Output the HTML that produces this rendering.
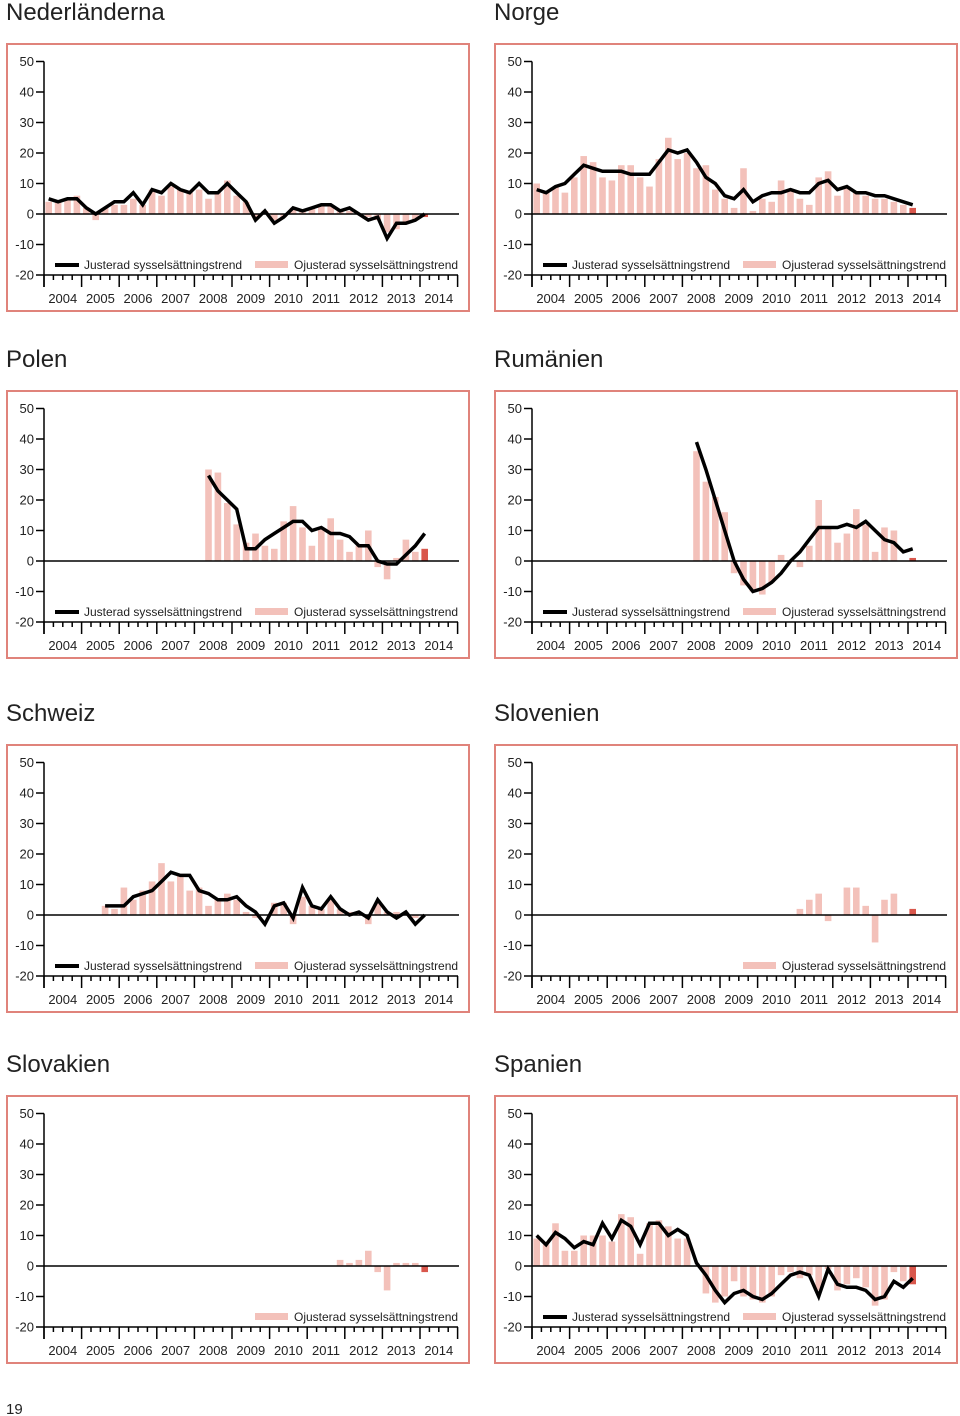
<!DOCTYPE html>
<html><head><meta charset="utf-8"><style>
body{margin:0;background:#fff;}
svg{display:block;font-family:"Liberation Sans",Arial,sans-serif;}
</style></head><body>
<svg id="page" width="960" height="1416" viewBox="0 0 960 1416" xmlns="http://www.w3.org/2000/svg">
<text x="6" y="1414" font-size="15" fill="#222">19</text>
</svg>
<script>
const years = ["2004","2005","2006","2007","2008","2009","2010","2011","2012","2013","2014"];
const yTicks = [50,40,30,20,10,0,-10,-20];
const titles = ["Nederländerna","Norge","Polen","Rumänien","Schweiz","Slovenien","Slovakien","Spanien"];
const nlLine = [5,4,5,5,2,0,2,4,4,7,3,8,7,10,8,7,10,7,7,10,7,4,-2,1,-3,-1,2,1,2,3,3,1,2,0,-2,-1,-8,-3,-3,-2,0];
const nlBars = [4,4,5,6,2,-2,2,3,3,5,3,8,6,9,8,7,8,5,7,11,6,4,-1,1,-2,-1,2,1,2,3,3,1,1,0,-1,-2,-6,-5,-3,-2,-1];
const noLine = [8,7,9,10,13,16,15,14,14,14,13,13,13,17,21,20,21,17,12,10,6,5,8,4,6,7,7,8,7,7,10,11,8,9,7,7,6,6,5,4,3];
const noBars = [10,7,9,7,12,19,17,12,11,16,16,12,9,18,25,18,20,15,16,8,5,2,15,1,5,4,11,8,5,3,12,14,6,9,7,6,5,5,4,3,2];
const plLine = [28,23,20,17,4,4,7,9,11,13,13,10,11,9,9,8,5,5,0,-1,-1,2,5,9];
const plBars = [30,29,19,12,6,9,5,4,13,18,11,5,11,14,7,3,5,10,-2,-6,1,7,3,4];
const roLine = [39,30,20,10,0,-6,-10,-9,-7,-4,0,3,7,11,11,11,12,11,13,10,7,6,3,4];
const roBars = [36,26,21,16,-4,-8,-10,-11,-7,2,0,-2,5,20,11,6,9,17,12,3,11,10,0,1];
const chLine = [3,3,3,6,7,8,11,14,13,13,8,7,5,5,6,3,1,-3,3,4,-1,9,3,2,6,2,0,1,-1,5,1,-1,1,-3,0];
const chBars = [3,2,9,5,8,11,17,11,13,8,9,3,5,7,5,1,-1,0,4,4,-3,6,3,2,5,2,1,1,-3,4,1,1,0,-1,0];
const siBars = [2,5,7,-2,0,9,9,3,-9,5,7,0,2];
const skBars = [2,1,2,5,-2,-8,1,1,1,-2];
const esLine = [10,7,11,9,6,8,7,14,9,15,13,7,14,14,10,12,10,1,-3,-8,-12,-9,-8,-10,-11,-9,-6,-3,-2,-3,-10,-1,-6,-7,-7,-8,-11,-10,-5,-7,-4];
const esBars = [9,7,14,5,5,10,10,10,8,17,16,4,14,15,13,9,9,0,-9,-12,-10,-5,-10,-11,-12,-10,-3,-2,-4,-3,-8,-1,-8,-6,-4,-7,-13,-11,-2,-5,-6];

const NS="http://www.w3.org/2000/svg";
const svg=document.getElementById('page');
function mk(tag,attrs,parent){const e=document.createElementNS(NS,tag);for(const k in attrs)e.setAttribute(k,attrs[k]);(parent||svg).appendChild(e);return e;}

const panels=[
 {t:0,ox:0,oy:0,line:nlLine,ls:0,bars:nlBars,bs:0},
 {t:1,ox:488,oy:0,line:noLine,ls:0,bars:noBars,bs:0},
 {t:2,ox:0,oy:347,line:plLine,ls:17,bars:plBars,bs:17},
 {t:3,ox:488,oy:347,line:roLine,ls:17,bars:roBars,bs:17},
 {t:4,ox:0,oy:701,line:chLine,ls:6,bars:chBars,bs:6},
 {t:5,ox:488,oy:701,line:null,ls:0,bars:siBars,bs:28},
 {t:6,ox:0,oy:1052,line:null,ls:0,bars:skBars,bs:31},
 {t:7,ox:488,oy:1052,line:esLine,ls:0,bars:esBars,bs:0}
];
const QW=9.4, UNIT=3.05;
panels.forEach(p=>{
  const g=mk('g',{});
  
  
  const x0=44+p.ox, y0=214+p.oy;
  const xq=i=>x0+QW*(i+0.5);
  const yv=v=>y0-v*UNIT;
  const tt=mk('text',{x:6+p.ox,y:20+p.oy,'font-size':24,fill:'#222'},g);
  tt.textContent=titles[p.t];
  
  
  const bx=mk('rect',{x:7+p.ox,y:44+p.oy,width:462,height:267,fill:'none',stroke:'#e0837b','stroke-width':2},g);
  
  
  // bars
  p.bars.forEach((v,k)=>{
    const i=p.bs+k; const last=(i===40);
    const r=mk('rect',{x:xq(i)-3.3,y:Math.min(yv(v),y0),width:6.6,height:Math.abs(v*UNIT),fill:last?'#d9574c':'#f3c1ba'},g);
    
    
  });
  // zero line
  mk('line',{x1:x0,x2:x0+415,y1:y0,y2:y0,stroke:'#000','stroke-width':1.5},g);
  // y axis
  mk('line',{x1:x0,x2:x0,y1:yv(50),y2:yv(-20)+12,stroke:'#000','stroke-width':1.5},g);
  yTicks.forEach(v=>{
    mk('line',{x1:x0-8,x2:x0,y1:yv(v),y2:yv(v),stroke:'#000','stroke-width':1.5},g);
    const t=mk('text',{x:x0-10,y:yv(v)+4.5,'font-size':13,'text-anchor':'end',fill:'#222'},g);
    t.textContent=v;
    
    
  });
  // x axis
  const yb=yv(-20);
  mk('line',{x1:x0,x2:x0+414,y1:yb,y2:yb,stroke:'#000','stroke-width':1.5},g);
  for(let q=0;q<=44;q++){
    const maj=q%4===0;
    mk('line',{x1:x0+QW*q,x2:x0+QW*q,y1:yb,y2:yb+(maj?12:5),stroke:'#000','stroke-width':1.5},g);
  }
  years.forEach((y,k)=>{
    const t=mk('text',{x:x0+QW*4*(k+0.5),y:yb+28,'font-size':13,'text-anchor':'middle',fill:'#222'},g);
    t.textContent=y;
    
    
  });
  // line
  if(p.line){
    const pts=p.line.map((v,k)=>xq(p.ls+k).toFixed(1)+','+yv(v).toFixed(1)).join(' ');
    const pl=mk('polyline',{points:pts,fill:'none',stroke:'#000','stroke-width':3.5,'stroke-linejoin':'miter'},g);
    
    
    mk('line',{x1:55+p.ox,x2:79+p.ox,y1:265+p.oy,y2:265+p.oy,stroke:'#000','stroke-width':4},g);
    const lt=mk('text',{x:84+p.ox,y:269+p.oy,'font-size':12,fill:'#222'},g);
    lt.textContent='Justerad sysselsättningstrend';
    
    
  }
  mk('rect',{x:255+p.ox,y:261+p.oy,width:33,height:7,fill:'#f3c1ba'},g);
  const lo=mk('text',{x:294+p.ox,y:269+p.oy,'font-size':12,fill:'#222'},g);
  lo.textContent='Ojusterad sysselsättningstrend';
  
  
});
</script>
</body></html>
